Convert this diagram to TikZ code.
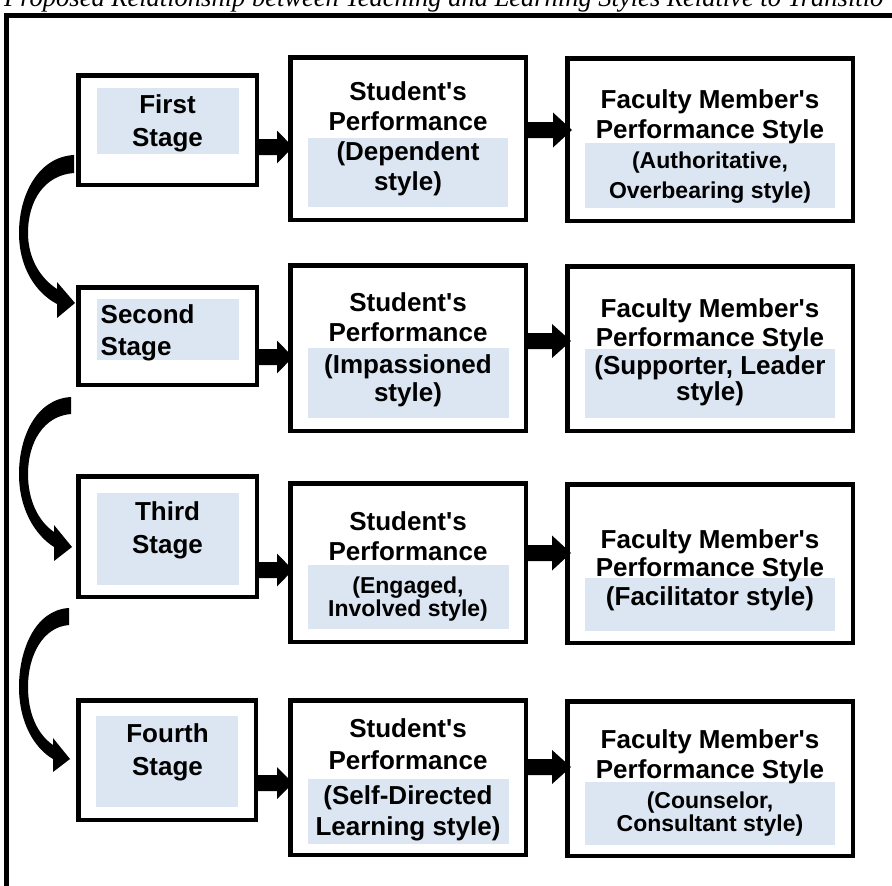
\documentclass[tikz,border=0pt]{standalone}
\usepackage{fontspec}
\setmainfont{Liberation Sans}
\newfontfamily\titlefont{Liberation Serif}
\usetikzlibrary{calc}
\definecolor{paleblue}{RGB}{220,230,242}
\newcommand\sm{\fontsize{23}{27}\selectfont}
\newcommand\ap{\textquotesingle}
\newcommand\boxnode[5]{%
  \pgfmathsetmacro\BXw{#4-#2-4.5}\pgfmathsetmacro\BXh{#5-#3-4.5}%
  \pgfmathsetmacro\BXx{(#2+#4)/2}\pgfmathsetmacro\BXy{(#3+#5)/2}%
  \node[box, minimum width=\BXw pt, minimum height=\BXh pt] (#1) at (\BXx,\BXy) {};}
\newcommand\lines[4][txt]{%
  \foreach \lY/\lT [count=\lI] in {#4} \node[#1] (#2-\lI) at (#3,\lY) {\lT};}
\newcommand\barrow[7]{%
  \path (#1.east |- 0,#3) coordinate (bs) (#2.west |- 0,#3) coordinate (be);
  \fill[black] ($(bs)+(-4,-#4)$) -- ($(be)+(#7-#6,-#4)$) -- ($(be)+(#7-#6,-#5)$)
    -- ($(be)+(#7,0)$) -- ($(be)+(#7-#6,#5)$) -- ($(be)+(#7-#6,#4)$)
    -- ($(bs)+(-4,#4)$) -- cycle;}
\begin{document}
\begin{tikzpicture}[x=1pt,y=-1pt,
  box/.style={draw=black, line width=4.5pt, fill=white, inner sep=0pt},
  txt/.style={anchor=base, inner sep=0pt, font=\bfseries\fontsize{26}{30}\selectfont},
  txtw/.style={txt, anchor=base west},
  hl/.style={fill=paleblue},
  curved/.style={fill=black}]
\useasboundingbox (0,0) rectangle (892,886);
\clip (0,0) rectangle (892,886);
\fill[white] (0,0) rectangle (892,886);
% title and outer frame
\node[anchor=base west, inner sep=0pt, font=\titlefont\itshape\fontsize{26.5}{30}\selectfont] (title) at (4,6)
  {Proposed Relationship between Teaching and Learning Styles Relative to Transitio};
\draw[line width=5pt] (6.5,950) -- (6.5,15) -- (950,15);
% boxes
\boxnode{a1}{76}{73}{259}{187}
\boxnode{a2}{76}{285}{259}{387}
\boxnode{a3}{76}{474}{259}{599}
\boxnode{a4}{76}{698}{258}{822}
\boxnode{b1}{288}{55}{528}{222}
\boxnode{b2}{288}{263}{528}{433}
\boxnode{b3}{288}{481}{528}{644}
\boxnode{b4}{288}{698}{528}{857}
\boxnode{c1}{565}{56}{855}{223}
\boxnode{c2}{565}{264}{855}{433}
\boxnode{c3}{565}{482}{855}{645}
\boxnode{c4}{565}{699}{855}{858}
% highlight fills
\fill[hl] (97,88) rectangle (239,154);
\fill[hl] (97,299) rectangle (239,360);
\fill[hl] (97,493) rectangle (239,585);
\fill[hl] (96,716) rectangle (238,807);
\fill[hl] (308,138) rectangle (508,207);
\fill[hl] (308,348) rectangle (509,418);
\fill[hl] (308,565) rectangle (509,629);
\fill[hl] (308,779) rectangle (509,844);
\fill[hl] (585,143) rectangle (835,208);
\fill[hl] (585,349) rectangle (835,418);
\fill[hl] (585,578) rectangle (835,631);
\fill[hl] (585,782) rectangle (835,845);
% texts
\lines{ta1}{167.5}{113.6/First, 146.6/Stage}
\lines[txtw]{ta2}{100.5}{323.6/Second, 355.6/Stage}
\lines{ta3}{167.5}{520.6/Third, 553.6/Stage}
\lines{ta4}{167.5}{742.6/Fourth, 775.6/Stage}
\lines{tb1}{408}{100.6/Student\ap s, 130.6/Performance, 160.6/(Dependent, 190.6/style)}
\lines{tb2}{408}{311.6/Student\ap s, 341.6/Performance, 373.6/(Impassioned, 401.6/style)}
\lines{tb3}{408}{530.6/Student\ap s, 560.6/Performance, 593/{\sm (Engaged,}, 616/{\sm Involved style)}}
\lines{tb4}{408}{737.6/Student\ap s, 769.6/Performance, 804.6/(Self-Directed, 835.6/Learning style)}
\lines{tc1}{710}{108.6/Faculty Member\ap s, 138.6/Performance Style, 168.5/{\sm (Authoritative,}, 198/{\sm Overbearing style)}}
\lines{tc2}{710}{317.6/Faculty Member\ap s, 346.6/Performance Style, 374.6/{(Supporter, Leader}, 400.6/style)}
\lines{tc3}{710}{548.6/Faculty Member\ap s, 576.6/Performance Style, 605.6/(Facilitator style)}
\lines{tc4}{710}{748.6/Faculty Member\ap s, 778.6/Performance Style, 808.5/{\sm (Counselor,}, 831.5/{\sm Consultant style)}}
% straight block arrows
\barrow{a1}{b1}{147}{8}{16.5}{16}{5}
\barrow{b1}{c1}{130}{8}{17.5}{19}{7}
\barrow{a2}{b2}{357}{8}{16.5}{16}{5}
\barrow{b2}{c2}{341}{8}{17}{19}{6}
\barrow{a3}{b3}{570}{8}{16.5}{16}{5}
\barrow{b3}{c3}{553}{8}{17.5}{19}{6}
\barrow{a4}{b4}{783}{8}{16}{16}{5}
\barrow{b4}{c4}{767}{8}{17}{19}{6}
% curved arrows between stages
\coordinate (k1s) at (74,164); \coordinate (k1e) at (75,303);
\fill[curved] (74,155) .. controls (38,157) and (19,195) .. (19,233)
  .. controls (19,268) and (36,293) .. (57,304) -- (57,318) -- (k1e) -- (57,282) -- (57,289)
  .. controls (40,278) and (28,258) .. (28,233) .. controls (28,200) and (45,175) .. (74,173) -- cycle;
\coordinate (k2s) at (71,405); \coordinate (k2e) at (72,547);
\fill[curved] (71,397) .. controls (36,399) and (19,437) .. (19,474)
  .. controls (19,509) and (35,535) .. (54,547) -- (54,561) -- (k2e) -- (54,525) -- (54,532)
  .. controls (38,521) and (28,500) .. (28,474) .. controls (28,442) and (44,416) .. (71,414) -- cycle;
\coordinate (k3s) at (69,616); \coordinate (k3e) at (70,759);
\fill[curved] (69,608) .. controls (35,610) and (19,650) .. (19,687)
  .. controls (19,722) and (34,748) .. (53,759) -- (53,772) -- (k3e) -- (53,738) -- (53,745)
  .. controls (37,734) and (28,713) .. (28,687) .. controls (28,655) and (43,627) .. (69,625) -- cycle;
\end{tikzpicture}
\end{document}
